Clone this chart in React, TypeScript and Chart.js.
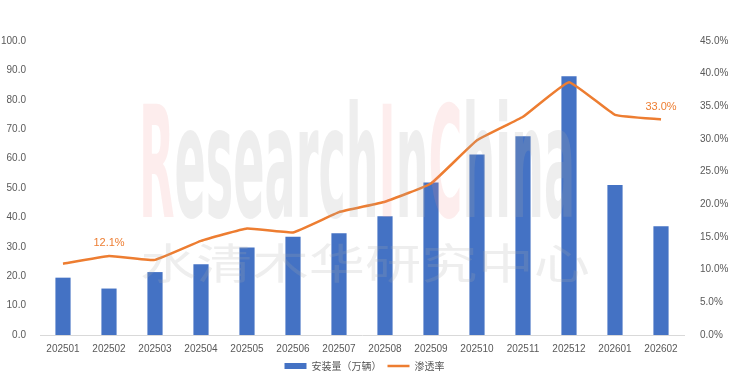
import React, { useEffect, useRef } from "react";
import { Chart, registerables } from "chart.js";

Chart.register(...registerables);

const categories = ["202501","202502","202503","202504","202505","202506","202507","202508","202509","202510","202511","202512","202601","202602"];
const installs = [19.5, 15.8, 21.4, 24.1, 29.8, 33.4, 34.6, 40.4, 51.9, 61.4, 67.6, 88.0, 51.0, 37.0];
const penetration = [10.9, 12.1, 11.5, 14.4, 16.3, 15.7, 18.8, 20.4, 23.2, 29.8, 33.4, 38.7, 33.7, 33.0];
const labeledPoints = [1, 13];
const leftTicks = { min: 0, max: 100, step: 10 };
const rightTicks = { min: 0, max: 45, step: 5 };

const BLUE = "#4472C4";
const ORANGE = "#ED7D31";
const GREY = "#595959";

const watermark = {
  id: "watermark",
  afterDatasetsDraw(chart: any) {
    const ctx = chart.ctx;
    ctx.save();
    const word = "ResearchInChina";
    const size = 150;
    ctx.font = `bold ${size}px "DejaVu Sans Condensed", "DejaVu Sans", sans-serif`;
    const total = ctx.measureText(word).width;
    const targetW = 436;
    const sx = targetW / total;
    ctx.translate(139, 217);
    ctx.scale(sx, 1.03);
    ctx.textBaseline = "alphabetic";
    let x = 0;
    for (let i = 0; i < word.length; i++) {
      const ch = word[i];
      const red = ch === "R" || ch === "I" || ch === "C";
      ctx.fillStyle = red ? "rgba(240,140,140,0.16)" : "rgba(170,170,170,0.2)";
      ctx.fillText(ch, x, 0);
      x += ctx.measureText(ch).width;
    }
    ctx.restore();
    ctx.save();
    ctx.font = `42px "Noto Sans CJK SC", sans-serif`;
    const cn = "水清木华研究中心";
    const w = ctx.measureText(cn).width;
    ctx.translate(140, 263);
    ctx.scale(450 / w, 1);
    ctx.textBaseline = "middle";
    ctx.fillStyle = "rgba(170,170,170,0.2)";
    ctx.fillText(cn, 0, 0);
    ctx.restore();
  },
};

const pointLabels = {
  id: "pointLabels",
  afterDatasetsDraw(chart: any) {
    const ctx = chart.ctx;
    const meta = chart.getDatasetMeta(1);
    ctx.save();
    ctx.font = `11px "Liberation Sans", Arial, sans-serif`;
    ctx.fillStyle = ORANGE;
    ctx.textAlign = "center";
    ctx.textBaseline = "bottom";
    labeledPoints.forEach((i) => {
      const p = meta.data[i];
      ctx.fillText(penetration[i].toFixed(1) + "%", p.x, p.y - 7);
    });
    ctx.restore();
  },
};

export default function App() {
  const ref = useRef<HTMLCanvasElement>(null);
  useEffect(() => {
    document.body.style.margin = "0";
    const chart = new Chart(ref.current!, {
      type: "bar",
      data: {
        labels: categories,
        datasets: [
          {
            type: "bar",
            label: "安装量（万辆）",
            data: installs,
            backgroundColor: BLUE,
            borderWidth: 0,
            yAxisID: "y",
            order: 2,
            categoryPercentage: 1,
            barPercentage: 0.33,
            pointStyle: "rect",
          } as any,
          {
            type: "line",
            label: "渗透率",
            data: penetration,
            borderColor: ORANGE,
            backgroundColor: ORANGE,
            borderWidth: 2.5,
            pointRadius: 0,
            tension: 0.1,
            yAxisID: "y1",
            order: 1,
            pointStyle: "line",
          } as any,
        ],
      },
      options: {
        animation: false,
        responsive: false,
        maintainAspectRatio: false,
        layout: { padding: { top: 41, bottom: 9, left: 0, right: 0 } },
        plugins: {
          tooltip: { enabled: false },
          legend: {
            position: "bottom",
            labels: {
              usePointStyle: true,
              pointStyleWidth: 22,
              boxHeight: 6,
              color: GREY,
              font: { size: 10, family: '"Noto Sans CJK SC", sans-serif' },
              padding: 6,
              sort: (a: any, b: any) => a.datasetIndex - b.datasetIndex,
            },
          },
        },
        scales: {
          x: {
            grid: { display: false },
            border: { display: true, color: "#d9d9d9", width: 1 },
            ticks: {
              color: GREY,
              font: { size: 10, family: '"Liberation Sans", Arial, sans-serif' },
              maxRotation: 0,
              autoSkip: false,
              padding: 0,
            },
          },
          y: {
            position: "left",
            min: leftTicks.min,
            max: leftTicks.max,
            grid: { display: false },
            border: { display: false },
            ticks: {
              stepSize: leftTicks.step,
              color: GREY,
              font: { size: 10, family: '"Liberation Sans", Arial, sans-serif' },
              callback: (v: any) => Number(v).toFixed(1),
              padding: 6,
            },
            afterFit: (s: any) => { s.width = 40; },
          },
          y1: {
            position: "right",
            min: rightTicks.min,
            max: rightTicks.max,
            grid: { display: false },
            border: { display: false },
            ticks: {
              stepSize: rightTicks.step,
              color: GREY,
              font: { size: 10, family: '"Liberation Sans", Arial, sans-serif' },
              callback: (v: any) => Number(v).toFixed(1) + "%",
              padding: 8,
            },
            afterFit: (s: any) => { s.width = 45; },
          },
        },
      },
      plugins: [watermark, pointLabels],
    });
    return () => chart.destroy();
  }, []);
  return (
    <div style={{ width: 729, height: 390, background: "#fff" }}>
      <canvas ref={ref} width={729} height={390} style={{ display: "block" }} />
    </div>
  );
}
